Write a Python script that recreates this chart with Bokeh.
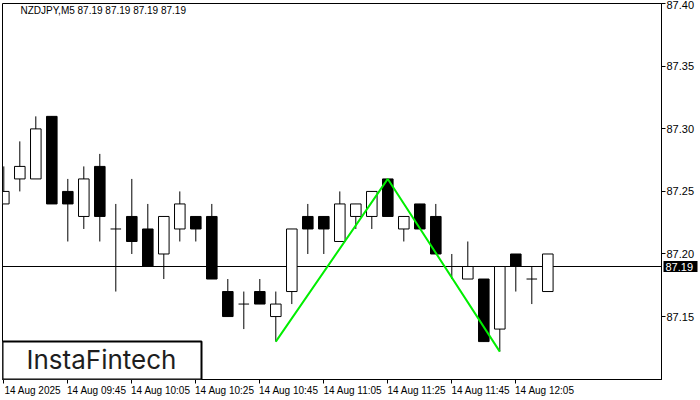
from bokeh.plotting import figure
from bokeh.models import (ColumnDataSource, FixedTicker, Span, Label, BoxAnnotation,
                          PrintfTickFormatter, Range1d, LinearAxis)
from bokeh.embed import file_html
from bokeh.resources import INLINE

# ---------------- data ----------------
symbol_title = "NZDJPY,M5  87.19 87.19 87.19 87.19"
times = ["09:25", "09:30", "09:35", "09:40", "09:45", "09:50", "09:55", "10:00",
         "10:05", "10:10", "10:15", "10:20", "10:25", "10:30", "10:35", "10:40",
         "10:45", "10:50", "10:55", "11:00", "11:05", "11:10", "11:15", "11:20",
         "11:25", "11:30", "11:35", "11:40", "11:45", "11:50", "11:55", "12:00",
         "12:05", "12:10", "12:15", "12:20"]
opens = [87.24, 87.26, 87.26, 87.31, 87.25, 87.23, 87.27, 87.22,
         87.23, 87.22, 87.20, 87.22, 87.23, 87.23, 87.17, 87.16,
         87.17, 87.15, 87.17, 87.23, 87.23, 87.21, 87.23, 87.23,
         87.26, 87.22, 87.24, 87.23, 87.19, 87.18, 87.18, 87.14,
         87.20, 87.18, 87.17, 87.19]
highs = [87.27, 87.29, 87.31, 87.31, 87.26, 87.27, 87.28, 87.24,
         87.26, 87.24, 87.23, 87.25, 87.23, 87.24, 87.18, 87.17,
         87.18, 87.17, 87.22, 87.24, 87.23, 87.25, 87.24, 87.25,
         87.26, 87.23, 87.24, 87.24, 87.20, 87.21, 87.18, 87.19,
         87.20, 87.19, 87.20, 87.19]
lows = [87.24, 87.25, 87.26, 87.24, 87.21, 87.22, 87.21, 87.17,
        87.20, 87.19, 87.18, 87.21, 87.21, 87.18, 87.15, 87.14,
        87.16, 87.13, 87.16, 87.20, 87.20, 87.21, 87.22, 87.22,
        87.23, 87.21, 87.22, 87.20, 87.18, 87.18, 87.13, 87.122,
        87.17, 87.16, 87.17, 87.19]
closes = [87.25, 87.27, 87.30, 87.24, 87.24, 87.26, 87.23, 87.22,
          87.21, 87.19, 87.23, 87.24, 87.22, 87.18, 87.15, 87.16,
          87.16, 87.16, 87.22, 87.22, 87.22, 87.24, 87.24, 87.25,
          87.23, 87.23, 87.22, 87.20, 87.19, 87.19, 87.13, 87.19,
          87.19, 87.18, 87.20, 87.19]
x_tick_times = ["09:25", "09:45", "10:05", "10:25", "10:45", "11:05", "11:25", "11:45", "12:05"]
x_tick_labels = ["14 Aug 2025", "14 Aug 09:45", "14 Aug 10:05", "14 Aug 10:25", "14 Aug 10:45",
                 "14 Aug 11:05", "14 Aug 11:25", "14 Aug 11:45", "14 Aug 12:05"]
y_ticks = [87.15, 87.20, 87.25, 87.30, 87.35, 87.40]
pattern_times = ["10:50", "11:25", "12:00"]
pattern_prices = [87.13, 87.26, 87.122]
last_price = 87.19
last_price_label = "87.19"
logo_text = "InstaFintech"

# ---------------- layout ----------------
W, H = 700, 400
MB_L, MB_R, MB_T, MB_B = 2, 39, 3, 21
FRAME_W = W - MB_L - MB_R
FRAME_H = H - MB_T - MB_B
PX_PER_X = 16.0
X0 = -1.3 / PX_PER_X
X1 = X0 + FRAME_W / PX_PER_X
Y0, Y1 = 87.0997, 87.4002
BODY_W = 0.66
FONT = "Liberation Sans"
FS = "10px"
LABEL_HALF_W = 29.0

pos = {t: i for i, t in enumerate(times)}
idx = list(range(len(times)))

up = [i for i in idx if closes[i] > opens[i]]
dn = [i for i in idx if closes[i] < opens[i]]
dj = [i for i in idx if closes[i] == opens[i]]

wick_src = ColumnDataSource(dict(x=idx, lo=lows, hi=highs))
up_src = ColumnDataSource(dict(x=up, o=[opens[i] for i in up], c=[closes[i] for i in up]))
dn_src = ColumnDataSource(dict(x=dn, o=[opens[i] for i in dn], c=[closes[i] for i in dn]))
dj_src = ColumnDataSource(dict(x0=[i - BODY_W / 2 for i in dj], x1=[i + BODY_W / 2 for i in dj],
                               y=[opens[i] for i in dj]))

p = figure(width=W, height=H, output_backend="svg", toolbar_location=None,
           x_range=Range1d(X0, X1), y_range=Range1d(Y0, Y1), y_axis_location="right",
           min_border_left=MB_L, min_border_right=MB_R, min_border_top=MB_T,
           min_border_bottom=MB_B)
p.xgrid.visible = False
p.ygrid.visible = False
p.background_fill_color = "white"
p.border_fill_color = "white"
p.outline_line_color = "black"
p.outline_line_alpha = 1
p.outline_line_width = 1

# price line (under candles)
p.add_layout(Span(location=last_price, dimension="width", line_color="black",
                  line_width=1, level="underlay"))

p.segment(x0="x", y0="lo", x1="x", y1="hi", source=wick_src, line_color="black", line_width=1)
p.segment(x0="x0", y0="y", x1="x1", y1="y", source=dj_src, line_color="black", line_width=1)
p.vbar(x="x", width=BODY_W, bottom="o", top="c", source=up_src,
       fill_color="white", line_color="black", line_width=1)
p.vbar(x="x", width=BODY_W, bottom="c", top="o", source=dn_src,
       fill_color="black", line_color="black", line_width=1)

# double-top pattern line
p.line(x=[pos[t] for t in pattern_times], y=pattern_prices, line_color="#00ee00", line_width=2)

# x axis: tick marks as minor ticks, labels left-aligned to them
tick_pos = [pos[t] for t in x_tick_times]
label_pos = [round(t + LABEL_HALF_W / PX_PER_X, 3) for t in tick_pos]
p.xaxis.ticker = FixedTicker(ticks=label_pos, minor_ticks=tick_pos)
p.xaxis.major_label_overrides = {lp: lab for lp, lab in zip(label_pos, x_tick_labels)}
p.xaxis.major_tick_out = 4
p.xaxis.major_tick_in = 0
p.xaxis.major_tick_line_color = None
p.xaxis.minor_tick_out = 4
p.xaxis.minor_tick_in = 0
p.xaxis.minor_tick_line_color = "black"
p.xaxis.major_label_standoff = 1
p.xaxis.axis_line_color = "black"
p.xaxis.major_label_text_font = FONT
p.xaxis.major_label_text_font_size = FS
p.xaxis.major_label_text_color = "black"

p.yaxis.ticker = FixedTicker(ticks=y_ticks, minor_ticks=[])
p.yaxis.formatter = PrintfTickFormatter(format="%.2f")
p.yaxis.major_tick_out = 4
p.yaxis.major_tick_in = 0
p.yaxis.major_tick_line_color = "black"
p.yaxis.minor_tick_line_color = None
p.yaxis.major_label_standoff = 1
p.yaxis.axis_line_color = "black"
p.yaxis.major_label_text_font = FONT
p.yaxis.major_label_text_font_size = "11px"
p.yaxis.major_label_text_color = "black"

# current price tag: an outer axis whose inward thick tick forms the black box,
# with its white label pulled back onto the box
tag_axis = LinearAxis(ticker=FixedTicker(ticks=[last_price], minor_ticks=[]),
                      major_label_overrides={last_price: last_price_label},
                      major_tick_out=0, major_tick_in=34, major_tick_line_width=11,
                      major_tick_line_color="black", major_tick_line_cap="butt",
                      minor_tick_line_color=None, axis_line_color=None,
                      major_label_standoff=-32, major_label_text_color="white",
                      major_label_text_font=FONT, major_label_text_font_size="11px")
p.add_layout(tag_axis, "right")

# symbol title
p.add_layout(Label(x=18, y=FRAME_H - 7, x_units="screen", y_units="screen",
                   text=symbol_title, text_color="black", text_font=FONT,
                   text_font_size=FS, text_baseline="middle", text_align="left"))

# logo
p.add_layout(BoxAnnotation(left=0, right=199, bottom=0, top=38,
                           left_units="screen", right_units="screen",
                           bottom_units="screen", top_units="screen",
                           fill_color="white", fill_alpha=1, line_color="black",
                           line_alpha=1, line_width=2))
p.add_layout(Label(x=99, y=20, x_units="screen", y_units="screen", text=logo_text,
                   text_color="#1e1e1e", text_font="Inter", text_font_size="26px",
                   text_align="center", text_baseline="middle"))

open("out.html", "w").write(file_html(p, INLINE))
